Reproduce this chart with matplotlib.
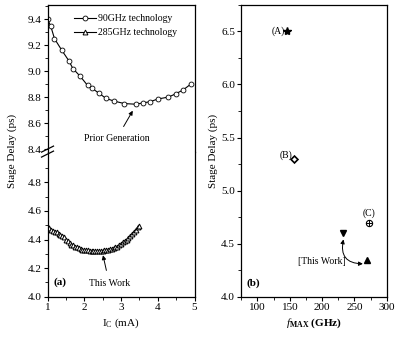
import numpy as np
import matplotlib
matplotlib.use("Agg")
import matplotlib.pyplot as plt
from matplotlib.ticker import MultipleLocator, FixedLocator

plt.rcParams["font.family"] = ["Liberation Serif", "DejaVu Serif"]
plt.rcParams["mathtext.fontset"] = "custom"
plt.rcParams["mathtext.rm"] = "Liberation Serif"
plt.rcParams["mathtext.it"] = "Liberation Serif:italic"
plt.rcParams["mathtext.bf"] = "Liberation Serif:bold"

# (a) stage delay vs collector current
ic_90 = [1.00, 1.09, 1.19, 1.39, 1.58, 1.69, 1.89, 2.09, 2.20, 2.40, 2.59,
         2.80, 3.09, 3.40, 3.60, 3.80, 4.00, 4.29, 4.49, 4.69, 4.90]
delay_90 = [9.40, 9.345, 9.25, 9.16, 9.08, 9.02, 8.96, 8.89, 8.87, 8.83, 8.79,
            8.77, 8.75, 8.745, 8.755, 8.765, 8.785, 8.80, 8.825, 8.855, 8.90]

ic_285 = [1.00, 1.05, 1.10, 1.15, 1.20, 1.25, 1.30, 1.35, 1.40, 1.45,
          1.50, 1.55, 1.60, 1.65, 1.70, 1.75, 1.80, 1.85, 1.90, 1.95,
          2.00, 2.05, 2.10, 2.15, 2.20, 2.25, 2.30, 2.35, 2.40, 2.45,
          2.50, 2.55, 2.60, 2.65, 2.70, 2.75, 2.80, 2.85, 2.90, 2.95,
          3.00, 3.05, 3.10, 3.15, 3.20, 3.25, 3.30, 3.35, 3.40, 3.45, 3.50]
delay_285 = [4.49, 4.48, 4.47, 4.46, 4.455, 4.45, 4.44, 4.43, 4.425, 4.415,
             4.40, 4.39, 4.375, 4.365, 4.36, 4.35, 4.345, 4.34, 4.335, 4.33,
             4.33, 4.325, 4.325, 4.32, 4.32, 4.32, 4.32, 4.318, 4.32, 4.32,
             4.322, 4.325, 4.33, 4.33, 4.335, 4.335, 4.34, 4.345, 4.35, 4.36,
             4.37, 4.38, 4.39, 4.40, 4.41, 4.425, 4.44, 4.455, 4.47, 4.485, 4.495]

# (b) stage delay vs fmax
fmax_a, delay_a = 146, 6.50
fmax_b, delay_b = 157, 5.30
fmax_c, delay_c = 272, 4.69
fmax_tw = [233, 269]
delay_tw = [4.60, 4.35]

fig = plt.figure(figsize=(3.96, 3.47), dpi=100)
L, W = 47.5 / 396, 147 / 396
ax_top = fig.add_axes([L, 1 - 151.6 / 347, W, 146.7 / 347])
ax_bot = fig.add_axes([L, 1 - 296.7 / 347, W, 145.1 / 347])
ax_b = fig.add_axes([241.3 / 396, 1 - 296.7 / 347, 145.5 / 396, 291.8 / 347])

fs = 8
for ax in (ax_top, ax_bot, ax_b):
    ax.tick_params(direction="out", labelsize=fs, length=3, width=0.8, pad=1.5)
    ax.tick_params(which="minor", direction="out", length=2, width=0.6)
    for s in ax.spines.values():
        s.set_linewidth(0.9)

for ax in (ax_top, ax_bot):
    ax.plot(ic_90, delay_90, "-", color="black", lw=0.8, marker="o", ms=3.5,
            mfc="white", mec="black", mew=0.6, label="90GHz technology")
    ax.plot(ic_285, delay_285, "-", color="black", lw=0.8, marker="^", ms=3.5,
            mfc="white", mec="black", mew=0.7, label="285GHz technology")
    ax.set_xlim(1, 5)
    ax.yaxis.set_major_formatter(plt.FormatStrFormatter("%.1f"))

ax_top.set_ylim(8.38, 9.51)
ax_top.yaxis.set_major_locator(FixedLocator([8.4, 8.6, 8.8, 9.0, 9.2, 9.4]))
ax_top.yaxis.set_minor_locator(FixedLocator([8.5, 8.7, 8.9, 9.1, 9.3, 9.5]))
ax_bot.set_ylim(4.0, 5.015)
ax_bot.yaxis.set_major_locator(FixedLocator([4.0, 4.2, 4.4, 4.6, 4.8]))
ax_bot.yaxis.set_minor_locator(FixedLocator([4.1, 4.3, 4.5, 4.7, 4.9]))
ax_top.spines["bottom"].set_visible(False)
ax_bot.spines["top"].set_visible(False)
ax_top.tick_params(axis="x", which="both", bottom=False, labelbottom=False)
ax_bot.xaxis.set_major_locator(MultipleLocator(1))
ax_bot.xaxis.set_minor_locator(MultipleLocator(0.5))

# break marks on left spine
for dy in (-2.5, 2.5):
    yc = 1 - (151.6 + dy) / 347
    fig.add_artist(plt.Line2D([L - 6 / 396, L + 6 / 396],
                              [yc - 3 / 347, yc + 3 / 347],
                              color="black", lw=0.9))

ax_top.legend(loc="upper center", bbox_to_anchor=(0.53, 0.985), frameon=False,
              fontsize=7, handlelength=2.2, handletextpad=0.2,
              labelspacing=0.55, borderaxespad=0.3)

ax_top.annotate("Prior Generation", xy=(3.32, 8.695), xytext=(2.88, 8.48),
                ha="center", va="center", fontsize=7,
                arrowprops=dict(arrowstyle="-|>", color="black", lw=0.7,
                                mutation_scale=6, shrinkB=0, shrinkA=4))
ax_bot.annotate("This Work", xy=(2.51, 4.29), xytext=(2.68, 4.095),
                ha="center", va="center", fontsize=7,
                arrowprops=dict(arrowstyle="-|>", color="black", lw=0.7,
                                mutation_scale=6, shrinkB=0, shrinkA=4))
ax_bot.text(1.15, 4.1, "(a)", fontsize=8, fontweight="bold", va="center")
ax_bot.set_xlabel(r"I$_\mathrm{C}$ (mA)", fontsize=8, labelpad=3)
fig.text(12 / 396, 1 - 151 / 347, "Stage Delay (ps)", rotation=90,
         ha="center", va="center", fontsize=8)

# panel (b)
ax_b.plot(fmax_a, delay_a, "*", color="black", ms=6)
ax_b.plot(fmax_b, delay_b, "D", mfc="white", mec="black", mew=1.2, ms=3.5)
ax_b.plot(fmax_c, delay_c, "o", mfc="white", mec="black", mew=0.8, ms=4.5)
ax_b.plot(fmax_c, delay_c, "+", color="black", mew=0.7, ms=4.5)
ax_b.plot(fmax_tw[0], delay_tw[0], "v", color="black", ms=5)
ax_b.plot(fmax_tw[1], delay_tw[1], "^", color="black", ms=5)
ax_b.annotate("", xy=(fmax_tw[0], delay_tw[0] - 0.06),
              xytext=(fmax_tw[1] - 6, delay_tw[1] - 0.04),
              arrowprops=dict(arrowstyle="<|-|>", color="black", lw=0.7,
                              mutation_scale=6, shrinkA=0, shrinkB=0,
                              connectionstyle="arc3,rad=-0.6"))
ax_b.text(fmax_a - 4, delay_a, "(A)", fontsize=7, ha="right", va="center")
ax_b.text(fmax_b - 3, delay_b + 0.03, "(B)", fontsize=7, ha="right", va="center")
ax_b.text(fmax_c, delay_c + 0.1, "(C)", fontsize=7, ha="center", va="center")
ax_b.text(200, 4.33, "[This Work]", fontsize=7, ha="center", va="center")
ax_b.text(83, 4.13, "(b)", fontsize=8, fontweight="bold", va="center")

ax_b.set_xlim(75, 300)
ax_b.set_ylim(4.0, 6.75)
ax_b.xaxis.set_major_locator(MultipleLocator(50))
ax_b.xaxis.set_minor_locator(MultipleLocator(25))
ax_b.yaxis.set_major_locator(MultipleLocator(0.5))
ax_b.yaxis.set_minor_locator(MultipleLocator(0.25))
ax_b.yaxis.set_major_formatter(plt.FormatStrFormatter("%.1f"))
ax_b.set_xlabel(r"$\mathbf{\mathit{f}}_{\mathbf{MAX}}$ (GHz)", fontsize=8,
                fontweight="bold", labelpad=3)
ax_b.set_ylabel("Stage Delay (ps)", fontsize=8, labelpad=2)

fig.savefig("out.png", dpi=100)
